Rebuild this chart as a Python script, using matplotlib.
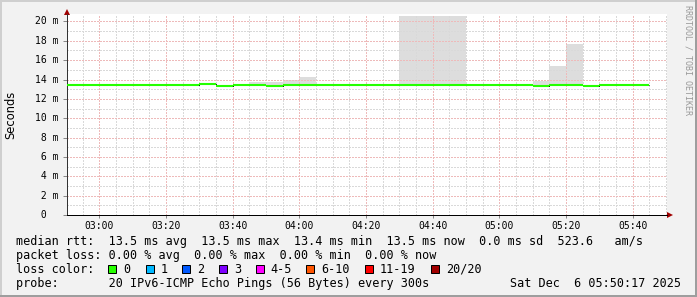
import matplotlib
matplotlib.use('Agg')
import matplotlib.pyplot as plt
import matplotlib.transforms as mtransforms
from matplotlib.patches import Rectangle
from matplotlib.ticker import FixedLocator, MultipleLocator

W, H = 697, 297
MONO = 'DejaVu Sans Mono'

# --- data: 5 minute steps, values in ms ---
STEP_START = ['02:50', '02:55', '03:00', '03:05', '03:10', '03:15', '03:20',
              '03:25', '03:30', '03:35', '03:40', '03:45', '03:50', '03:55',
              '04:00', '04:05', '04:10', '04:15', '04:20', '04:25', '04:30',
              '04:35', '04:40', '04:45', '04:50', '04:55', '05:00', '05:05',
              '05:10', '05:15', '05:20', '05:25', '05:30', '05:35', '05:40']
STEP_END = '05:45'
MEDIAN = [13.45, 13.45, 13.45, 13.45, 13.45, 13.45, 13.45,
          13.45, 13.55, 13.35, 13.45, 13.45, 13.35, 13.45,
          13.45, 13.45, 13.45, 13.45, 13.45, 13.45, 13.45,
          13.45, 13.45, 13.45, 13.45, 13.45, 13.45, 13.45,
          13.35, 13.45, 13.45, 13.35, 13.45, 13.45, 13.45]
SMOKE_LO = [13.45, 13.30, 13.45, 13.30, 13.45, 13.45, 13.45,
            13.30, 13.40, 13.35, 13.45, 13.40, 13.30, 13.40,
            13.40, 13.45, 13.45, 13.30, 13.30, 13.45, 13.40,
            13.40, 13.40, 13.28, 13.28, 13.45, 13.45, 13.30,
            13.30, 13.40, 13.40, 13.28, 13.45, 13.45, 13.45]
SMOKE_HI = [13.45, 13.50, 13.45, 13.50, 13.45, 13.45, 13.45,
            13.50, 13.60, 13.35, 13.45, 13.72, 13.72, 13.90,
            14.30, 13.45, 13.45, 13.50, 13.50, 13.45, 20.60,
            20.60, 20.60, 20.60, 13.50, 13.45, 13.45, 13.50,
            13.85, 15.35, 17.70, 13.40, 13.45, 13.45, 13.45]

VIEW_START = '02:50:17'
VIEW_END = '05:50:17'
X_TICKS = ['03:00', '03:20', '03:40', '04:00', '04:20',
           '04:40', '05:00', '05:20', '05:40']
Y_TICKS = [0, 2, 4, 6, 8, 10, 12, 14, 16, 18, 20]
Y_LABELS = [' 0  ', ' 2 m', ' 4 m', ' 6 m', ' 8 m', '10 m',
            '12 m', '14 m', '16 m', '18 m', '20 m']

LINE_RTT = ("median rtt:  13.5 ms avg  13.5 ms max  13.4 ms min  "
            "13.5 ms now  0.0 ms sd  523.6   am/s")
LINE_LOSS = "packet loss: 0.00 % avg  0.00 % max  0.00 % min  0.00 % now"
LINE_PROBE = "probe:       20 IPv6-ICMP Echo Pings (56 Bytes) every 300s"
DATE_TEXT = "Sat Dec  6 05:50:17 2025"
LOSS_LABELS = ['0', '1', '2', '3', '4-5', '6-10', '11-19', '20/20']
LOSS_COLORS = ['#26ff00', '#00b8ff', '#0059ff', '#7e00ff',
               '#ff00ff', '#ff5500', '#ff0000', '#a10000']
LOSS_BOX_X = [108.3, 145.7, 182.3, 219, 255.7, 306, 365, 430.7]


def to_min(stamp):
    parts = [int(p) for p in stamp.split(':')]
    return parts[0] * 60 + parts[1] + (parts[2] / 60 if len(parts) > 2 else 0)


def fx(x):
    return x / W


def fy(y):
    return 1 - y / H


fig = plt.figure(figsize=(W / 100, H / 100), dpi=100, facecolor='#f2f2f2')
ax = fig.add_axes([fx(67), fy(215), 600 / W, 201 / H])
ax.set_facecolor('white')
ax.set_xlim(to_min(VIEW_START), to_min(VIEW_END))
ax.set_ylim(0, 20.77)

edges = [to_min(t) for t in STEP_START] + [to_min(STEP_END)]
ax.stairs(SMOKE_HI, edges, baseline=SMOKE_LO, fill=True,
          color='#dddddd', lw=0, zorder=1)
ax.stairs(MEDIAN, edges, baseline=None, color='black', lw=0.72, zorder=3)
ax.hlines(MEDIAN, edges[:-1], edges[1:], color='#26ff00', lw=1.5,
          zorder=4, capstyle='butt')

# grid (crisp dotted lines like rrdtool)
ax.xaxis.set_major_locator(FixedLocator([to_min(t) for t in X_TICKS]))
ax.xaxis.set_minor_locator(MultipleLocator(5))
ax.set_xticklabels(X_TICKS, fontfamily=MONO, fontsize=7)
ax.yaxis.set_major_locator(FixedLocator(Y_TICKS))
ax.yaxis.set_minor_locator(MultipleLocator(1))
ax.set_axisbelow('line')
ax.grid(which='minor', color='#d9d9d9', lw=1.0, ls=(0, (1, 1)),
        antialiased=False)
ax.grid(which='major', color='#eebaba', lw=1.0, ls=(0, (1, 1)),
        antialiased=False)

for side in ('top', 'right'):
    ax.spines[side].set_visible(False)
ax.spines['left'].set_color('#333333')
ax.spines['bottom'].set_color('black')
for side in ('left', 'bottom'):
    ax.spines[side].set_linewidth(0.72)

ax.tick_params(axis='x', which='major', length=2, width=0.72,
               color='#888888', pad=2.5)
ax.tick_params(axis='y', which='major', length=3, width=0.72,
               color='#888888', labelleft=False)
ax.tick_params(which='minor', length=0)

ylab_trans = mtransforms.blended_transform_factory(fig.transFigure, ax.transData)
for val, lab in zip(Y_TICKS, Y_LABELS):
    ax.text(fx(35.2), val, lab, transform=ylab_trans, ha='left', va='center',
            fontsize=7, family=MONO)

# axis arrows
up = mtransforms.offset_copy(ax.transAxes, fig=fig, x=0, y=2.5, units='dots')
right = mtransforms.offset_copy(ax.transAxes, fig=fig, x=3, y=0, units='dots')
ax.plot([0], [1], marker='^', ms=4, mew=0, color='#a00000',
        transform=up, clip_on=False)
ax.plot([1], [0], marker='>', ms=4, mew=0, color='#a00000',
        transform=right, clip_on=False)

fig.text(fx(11), fy(114.5), 'Seconds', rotation=90, ha='center',
         va='center', fontsize=8.3)
fig.text(fx(688), fy(5), 'RRDTOOL / TOBI OETIKER', rotation=270,
         ha='center', va='top', fontsize=6, family=MONO, color='#999999')

# legend block
fig.text(fx(16), fy(244.5), LINE_RTT, family=MONO, fontsize=8.5, va='baseline')
fig.text(fx(16), fy(258.7), LINE_LOSS, family=MONO, fontsize=8.5, va='baseline')
fig.text(fx(16), fy(272.8), 'loss color:', family=MONO, fontsize=8.5,
         va='baseline')
for bx, col, lab in zip(LOSS_BOX_X, LOSS_COLORS, LOSS_LABELS):
    fig.add_artist(Rectangle((fx(bx), fy(273)), 8 / W, 8 / H,
                             transform=fig.transFigure, facecolor=col,
                             edgecolor='black', lw=0.72))
    fig.text(fx(bx + 15), fy(272.8), lab, family=MONO, fontsize=8.5,
             va='baseline')
fig.text(fx(16), fy(287), LINE_PROBE, family=MONO, fontsize=8.5, va='baseline')
fig.text(fx(680.5), fy(287), DATE_TEXT, family=MONO, fontsize=8.5,
         va='baseline', ha='right')

# 3D frame around the image
shade_a, shade_b = '#cfcfcf', '#9e9e9e'
fig.add_artist(Rectangle((0, 1 - 2 / H), 1, 2 / H, transform=fig.transFigure,
                         color=shade_a, lw=0))
fig.add_artist(Rectangle((0, 0), 2 / W, 1, transform=fig.transFigure,
                         color=shade_a, lw=0))
fig.add_artist(Rectangle((0, 0), 1, 2 / H, transform=fig.transFigure,
                         color=shade_b, lw=0))
fig.add_artist(Rectangle((1 - 2 / W, 0), 2 / W, 1, transform=fig.transFigure,
                         color=shade_b, lw=0))

fig.savefig('out.png', dpi=100, facecolor=fig.get_facecolor())
